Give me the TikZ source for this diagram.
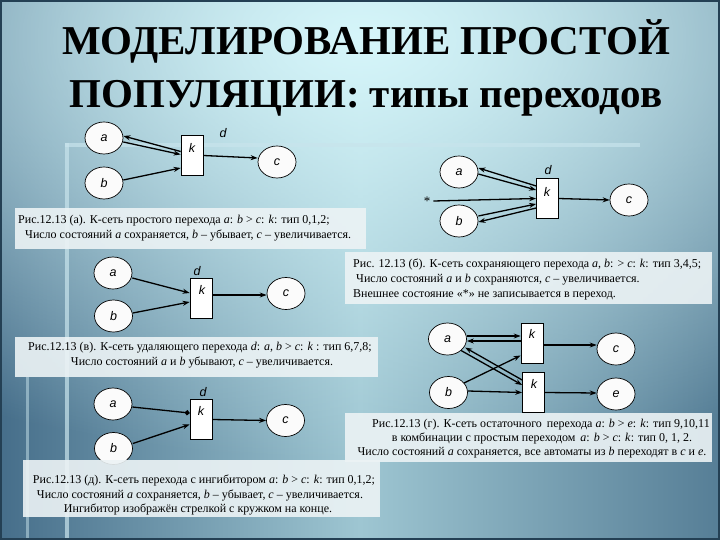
\documentclass[tikz,border=0pt]{standalone}
\usepackage{fontspec}
\setmainfont{Liberation Serif}
\newfontfamily\lsans{Liberation Sans}
\usetikzlibrary{arrows.meta,shapes.geometric,fadings}

\definecolor{bgL}{RGB}{70,110,138}
\definecolor{bgM}{RGB}{158,198,210}
\definecolor{bgR}{RGB}{86,126,150}
\definecolor{ttl}{RGB}{214,246,250}
\definecolor{capbg}{RGB}{236,243,245}
\definecolor{band}{RGB}{200,228,236}
\definecolor{framec}{RGB}{36,64,84}

\tikzfading[name=glowfade, inner color=transparent!0, outer color=transparent!100]

\tikzset{
  st/.style={ellipse, draw=black, line width=0.7pt, fill=white!97!gray,
    minimum width=38pt, minimum height=32pt, inner sep=0pt,
    font=\lsans\itshape\fontsize{12.5}{12.5}\selectfont},
  tr/.style={rectangle, draw=black, line width=0.7pt, fill=white,
    minimum width=22pt, minimum height=40pt, inner sep=0pt},
  lbl/.style={font=\lsans\itshape\fontsize{12.5}{12.5}\selectfont, inner sep=0pt},
  arr/.style={line width=1.3pt, -{Stealth[length=7pt,width=5pt]}},
  inh/.style={line width=1.3pt, -{Circle[length=5pt]}},
  capbox/.style={fill=capbg, fill opacity=0.9, draw=none},
  captxt/.style={font=\fontsize{12}{12}\selectfont, inner sep=0pt, text=black},
  ttxt/.style={font=\fontsize{41}{41}\selectfont\bfseries, inner sep=0pt},
}

\begin{document}
\begin{tikzpicture}[x=1pt,y=-1pt]
\useasboundingbox (0,0) rectangle (720,540);
\begin{scope}
\clip (0,0) rectangle (720,540);
\shade[left color=bgL, right color=bgR, middle color=bgM] (0,0) rectangle (720,540);
\fill[ttl, path fading=glowfade] (360,40) ellipse [x radius=800, y radius=420];
% light bands
\fill[band, opacity=0.7] (65,143) rectangle (640,147);
\fill[band, opacity=0.7] (65,143) rectangle (69,540);
\fill[band, opacity=0.5] (26,377) rectangle (29,540);
\draw[framec, line width=4pt] (0,0) rectangle (720,540);
\end{scope}

% title
\node[ttxt, anchor=base] (t1) at (366,55) {МОДЕЛИРОВАНИЕ ПРОСТОЙ};
\node[ttxt, anchor=base] (t2) at (366,108) {ПОПУЛЯЦИИ: типы переходов};

% ---------- (a)
\node[st] (aa) at (104,138) {a};
\node[st] (ab) at (104,183) {b};
\node[tr] (ak) at (192,155.5) {};
\node[lbl] (akl) at (192,148) {k};
\node[lbl] (ad) at (223,133) {d};
\node[st] (ac) at (277,162) {c};
\draw[arr] ([yshift=4pt]ak.west) -- ([yshift=2pt]aa.east);
\draw[arr] ([yshift=-4pt]aa.east) -- ([yshift=1pt]ak.west);
\draw[arr] ([yshift=3pt]ab.east) -- ([yshift=-12.5pt]ak.west);
\draw[arr] (ak.east) -- ([yshift=4pt]ac.west);
\fill[capbox] (15,208) rectangle (366,249);
\node[captxt, anchor=base west] (ca1) at (18,223) {Рис.12.13 (а). К-сеть простого перехода \textit{a}: \textit{b} > \textit{c}: \textit{k}: тип 0,1,2;};
\node[captxt, anchor=base west] (ca2) at (25,239) {Число состояний \textit{a} сохраняется, \textit{b} – убывает, \textit{c} – увеличивается.};

% ---------- (б)
\node[st] (ba) at (459,172) {a};
\node[st] (bb) at (459,221) {b};
\node[tr] (bk) at (547.5,198.5) {};
\node[lbl] (bkl) at (547,192) {k};
\node[lbl] (bd) at (548,170) {d};
\node[st] (bc) at (629,200) {c};
\node[inner sep=0pt, font=\fontsize{13}{13}\selectfont] (bs) at (427,201) {*};
\draw[arr] ([yshift=12.5pt]bk.west) -- ([yshift=4pt]ba.east);
\draw[arr] ([yshift=-2pt]ba.east) -- ([yshift=8.5pt]bk.west);
\draw[arr] ([xshift=3pt]bs.east) -- (bk.west);
\draw[arr] ([yshift=5pt]bb.east) -- ([yshift=-5.5pt]bk.west);
\draw[arr] ([yshift=-9.5pt]bk.west) -- ([yshift=-1pt]bb.east);
\draw[arr] (bk.east) -- (bc.west);
\fill[capbox] (345,252) rectangle (712,304);
\node[captxt, anchor=base west] (cb1) at (353,267) {Рис. 12.13 (б). К-сеть сохраняющего перехода \textit{a}, \textit{b}: > \textit{c}: \textit{k}: тип 3,4,5;};
\node[captxt, anchor=base west] (cb2) at (356,282) {Число состояний \textit{a} и \textit{b} сохраняются, \textit{c} – увеличивается.};
\node[captxt, anchor=base west] (cb3) at (353,297) {Внешнее состояние «*» не записывается в переход.};

% ---------- (в)
\node[st] (va) at (113,273) {a};
\node[st] (vb) at (113.5,316) {b};
\node[tr] (vk) at (201,298) {};
\node[lbl] (vkl) at (202,290) {k};
\node[lbl] (vd) at (197,271) {d};
\node[st] (vc) at (286,293.5) {c};
\draw[arr] ([yshift=-5pt]va.east) -- ([yshift=5pt]vk.west);
\draw[arr] ([yshift=3pt]vb.east) -- ([yshift=-4pt]vk.west);
\draw[arr] ([yshift=3pt]vk.east) -- ([yshift=-1.5pt]vc.west);
\fill[capbox] (15,337) rectangle (378,377);
\node[captxt, anchor=base] (cv1) at (200,350) {Рис.12.13 (в). К-сеть удаляющего перехода \textit{d}: \textit{a}, \textit{b} > \textit{c}: \textit{k} : тип 6,7,8;};
\node[captxt, anchor=base] (cv2) at (202,365) {Число состояний \textit{a} и \textit{b} убывают, \textit{c} – увеличивается.};

% ---------- (г)
\node[st] (ga) at (447.5,339) {a};
\node[st] (gb) at (448.5,392.5) {b};
\node[tr] (gk1) at (532,343.5) {};
\node[lbl] (gk1l) at (532,334) {k};
\node[tr] (gk2) at (533.5,392.5) {};
\node[lbl] (gk2l) at (534,384) {k};
\node[st] (gc) at (616,349) {c};
\node[st] (ge) at (616,394) {e};
\draw[arr] ([yshift=3pt]ga.east) -- ([yshift=7.5pt]gk1.west);
\draw[arr] ([yshift=2.5pt]gk1.west) -- ([yshift=-2pt]ga.east);
\draw[arr] (ga.south east) -- ([yshift=7.5pt]gk2.west);
\draw[arr] ([yshift=12.5pt]gk2.west) -- ([xshift=4pt,yshift=3pt]ga.south east);
\draw[arr] ([xshift=2pt,yshift=-2pt]gb.north east) -- ([yshift=-12pt]gk1.west);
\draw[arr] ([yshift=1.5pt]gb.east) -- (gk2.west);
\draw[arr] ([yshift=-1.5pt]gk1.east) -- ([yshift=4pt]gc.west);
\draw[arr] (gk2.east) -- ([yshift=1pt]ge.west);
\fill[capbox] (345,413) rectangle (712,462);
\node[captxt, anchor=base] (cg1) at (541,427) {Рис.12.13 (г). К-сеть остаточного\, перехода \textit{a}: \textit{b} > \textit{e}: \textit{k}: тип 9,10,11};
\node[captxt, anchor=base] (cg2) at (542,441) {в комбинации с простым переходом\, \textit{a}: \textit{b} > \textit{c}: \textit{k}: тип 0, 1, 2.};
\node[captxt, anchor=base] (cg3) at (532,455) {Число состояний \textit{a} сохраняется, все автоматы из \textit{b} переходят в \textit{c} и \textit{e}.};

% ---------- (д)
\node[st] (da) at (113,404) {a};
\node[st] (db) at (113.5,448.5) {b};
\node[tr] (dk) at (201,419.5) {};
\node[lbl] (dkl) at (201,411) {k};
\node[lbl] (dd) at (203,392) {d};
\node[st] (dc) at (285.5,420.5) {c};
\draw[inh] ([yshift=-3pt]da.east) -- ([yshift=6.5pt]dk.west);
\draw[arr] ([yshift=5pt]db.east) -- ([yshift=-5pt]dk.west);
\draw[arr] (dk.east) -- (dc.west);
\fill[capbox] (23,460) rectangle (380,517);
\node[captxt, anchor=base] (cd1) at (204,483) {Рис.12.13 (д). К-сеть перехода с ингибитором \textit{a}: \textit{b} > \textit{c}: \textit{k}: тип 0,1,2;};
\node[captxt, anchor=base] (cd2) at (200,498) {Число состояний \textit{a} сохраняется, \textit{b} – убывает, \textit{c} – увеличивается.};
\node[captxt, anchor=base] (cd3) at (198,512) {Ингибитор изображён стрелкой с кружком на конце.};
\end{tikzpicture}
\end{document}
